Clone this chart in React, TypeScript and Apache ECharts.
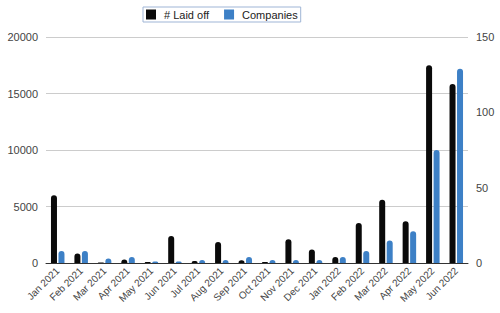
import React, { useEffect, useRef } from "react";
import * as echarts from "echarts";

const months = [
  "Jan 2021", "Feb 2021", "Mar 2021", "Apr 2021", "May 2021", "Jun 2021",
  "Jul 2021", "Aug 2021", "Sep 2021", "Oct 2021", "Nov 2021", "Dec 2021",
  "Jan 2022", "Feb 2022", "Mar 2022", "Apr 2022", "May 2022", "Jun 2022",
];
const laidOff = [6000, 850, 50, 300, 80, 2400, 180, 1850, 240, 80, 2100, 1200, 530, 3550, 5600, 3700, 17500, 15850];
const companies = [8, 8, 3, 4, 1, 1, 2, 2, 4, 2, 2, 2, 4, 8, 15, 21, 75, 129];

const FONT = "'Liberation Sans', Arial, sans-serif";

export default function App() {
  const ref = useRef<HTMLDivElement>(null);
  useEffect(() => {
    if (!ref.current) return;
    document.body.style.margin = "0";
    const chart = echarts.init(ref.current, undefined, { renderer: "svg" });
    chart.setOption({
      animation: false,
      textStyle: { fontFamily: FONT },
      legend: {
        left: 143,
        top: 7,
        orient: "horizontal",
        itemWidth: 10,
        itemHeight: 10,
        itemGap: 15,
        padding: [2, 3, 2, 3],
        borderColor: "#9fb5d6",
        borderWidth: 1,
        backgroundColor: "#fff",
        icon: "rect",
        textStyle: { fontSize: 11, color: "#222", fontFamily: FONT, padding: [0, 0, 0, 3] },
        data: ["# Laid off", "Companies"],
      },
      grid: { left: 46, right: 32, top: 37, bottom: 50 },
      xAxis: {
        type: "category",
        data: months,
        axisLine: { show: true, lineStyle: { color: "#333", width: 1 } },
        axisTick: { show: false },
        axisLabel: { rotate: 45, fontSize: 10, color: "#444", margin: 6, interval: 0, fontFamily: FONT },
      },
      yAxis: [
        {
          type: "value",
          min: 0,
          max: 20000,
          interval: 5000,
          axisLine: { show: false },
          axisTick: { show: false },
          axisLabel: { fontSize: 11, color: "#444", margin: 8, fontFamily: FONT, formatter: (v: number) => String(v) },
          splitLine: { lineStyle: { color: "#ccc", width: 1 } },
        },
        {
          type: "value",
          min: 0,
          max: 150,
          interval: 50,
          position: "right",
          axisLine: { show: false },
          axisTick: { show: false },
          axisLabel: { fontSize: 11, color: "#444", margin: 8, fontFamily: FONT, formatter: (v: number) => String(v) },
          splitLine: { show: false },
        },
      ],
      series: [
        {
          name: "# Laid off",
          type: "bar",
          data: laidOff,
          yAxisIndex: 0,
          barWidth: 6,
          barGap: "25%",
          itemStyle: { color: "#0a0a0a", borderRadius: [3, 3, 0, 0] },
        },
        {
          name: "Companies",
          type: "bar",
          data: companies,
          yAxisIndex: 1,
          barWidth: 6,
          barGap: "25%",
          itemStyle: { color: "#3d80c6", borderRadius: [3, 3, 0, 0] },
        },
      ],
    });
    return () => chart.dispose();
  }, []);
  return <div ref={ref} style={{ width: 500, height: 313 }} />;
}
